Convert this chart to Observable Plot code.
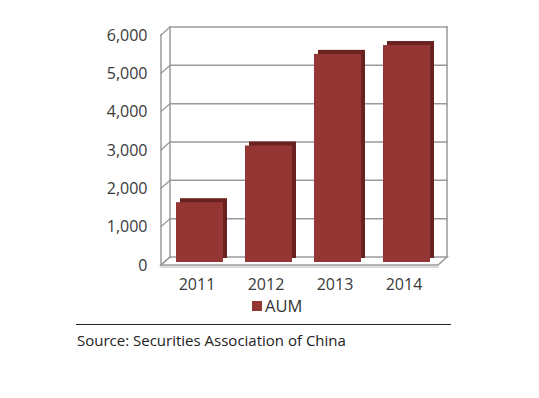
<!DOCTYPE html>
<html>
<head>
<meta charset="utf-8">
<script src="https://cdn.jsdelivr.net/npm/d3@7"></script>
<script src="https://cdn.jsdelivr.net/npm/@observablehq/plot@0.6"></script>
<style>
  html, body { margin: 0; padding: 0; background: #fff; }
  #wrap { position: relative; width: 539px; height: 398px; font-family: "Open Sans", sans-serif; }
  #legend { position: absolute; left: 252px; top: 294px; font-size: 16.5px; color: #333; display: flex; align-items: center; }
  #legend .sw { width: 10px; height: 10px; background: #943634; margin-right: 3px; }
  #rule { position: absolute; left: 76px; top: 324px; width: 375px; height: 0; border-top: 1.5px solid #222; }
  #source { position: absolute; left: 77px; top: 330px; font-size: 15px; color: #222; }
</style>
</head>
<body>
<div id="wrap">
  <div id="chart"></div>
  <div id="legend"><span class="sw"></span><span id="legendLabel"></span></div>
  <div id="rule"></div>
  <div id="source"></div>
</div>
<script>
const years = ["2011", "2012", "2013", "2014"];
const aum = [1560, 3040, 5430, 5660];
const yTicks = [0, 1000, 2000, 3000, 4000, 5000, 6000];
const seriesName = "AUM";
const sourceText = "Source: Securities Association of China";

const data = years.map((year, i) => ({year, aum: aum[i]}));

const DX = 9, DY = -8;

function walls(index, scales, values, dim) {
  const y = scales.y;
  const x0 = dim.marginLeft, x1 = dim.width - dim.marginRight;
  const yMin = y(yTicks[0]), yMax = y(yTicks[yTicks.length - 1]);
  const g = d3.create("svg:g").attr("fill", "none").attr("stroke-linecap", "square");
  // floor
  g.append("path")
    .attr("d", `M${x0},${yMin}L${x1},${yMin}L${x1 + DX},${yMin + DY}L${x0 + DX},${yMin + DY}Z`)
    .attr("fill", "#fff").attr("stroke", "#9a9a9a").attr("stroke-width", 1.5);
  g.append("line").attr("x1", x0).attr("x2", x1).attr("y1", yMin + 2).attr("y2", yMin + 2)
    .attr("stroke", "#cfcfcf").attr("stroke-width", 1.5);
  // back grid lines
  for (const t of yTicks.slice(1)) {
    g.append("line").attr("x1", x0 + DX).attr("x2", x1 + DX).attr("y1", y(t) + DY).attr("y2", y(t) + DY)
      .attr("stroke", "#9a9a9a").attr("stroke-width", 1.5);
  }
  // left wall diagonals
  for (const t of yTicks) {
    g.append("line").attr("x1", x0).attr("x2", x0 + DX).attr("y1", y(t)).attr("y2", y(t) + DY)
      .attr("stroke", "#9a9a9a").attr("stroke-width", 1.3);
  }
  // verticals
  g.append("line").attr("x1", x0).attr("x2", x0).attr("y1", yMin).attr("y2", yMax).attr("stroke", "#9a9a9a").attr("stroke-width", 1.5);
  g.append("line").attr("x1", x0 + DX).attr("x2", x0 + DX).attr("y1", yMin + DY).attr("y2", yMax + DY).attr("stroke", "#9a9a9a").attr("stroke-width", 1.5);
  g.append("line").attr("x1", x1 + DX).attr("x2", x1 + DX).attr("y1", yMin + DY).attr("y2", yMax + DY).attr("stroke", "#9a9a9a").attr("stroke-width", 1.5);
  return g.node();
}

const chart = Plot.plot({
  width: 539,
  height: 295,
  marginLeft: 161,
  marginRight: 101,
  marginTop: 35,
  marginBottom: 30,
  style: {fontFamily: "Open Sans, sans-serif", fontSize: "16px", color: "#3a3a3a", background: "transparent"},
  x: {domain: years, paddingInner: 0.32, paddingOuter: 0.16, tickSize: 0, tickPadding: 13, label: null},
  y: {domain: [0, 6000], ticks: yTicks, tickFormat: d3.format(","), tickSize: 0, tickPadding: 14, label: null},
  marks: [
    walls,
    Plot.barY(data, {x: "year", y: "aum", fill: "#6a2220", dx: 7, dy: -7}),
    Plot.barY(data, {x: "year", y: "aum", fill: "#943634", dx: 3, dy: -3})
  ]
});
document.getElementById("chart").appendChild(chart);
document.getElementById("legendLabel").textContent = seriesName;
document.getElementById("source").textContent = sourceText;
</script>
</body>
</html>
